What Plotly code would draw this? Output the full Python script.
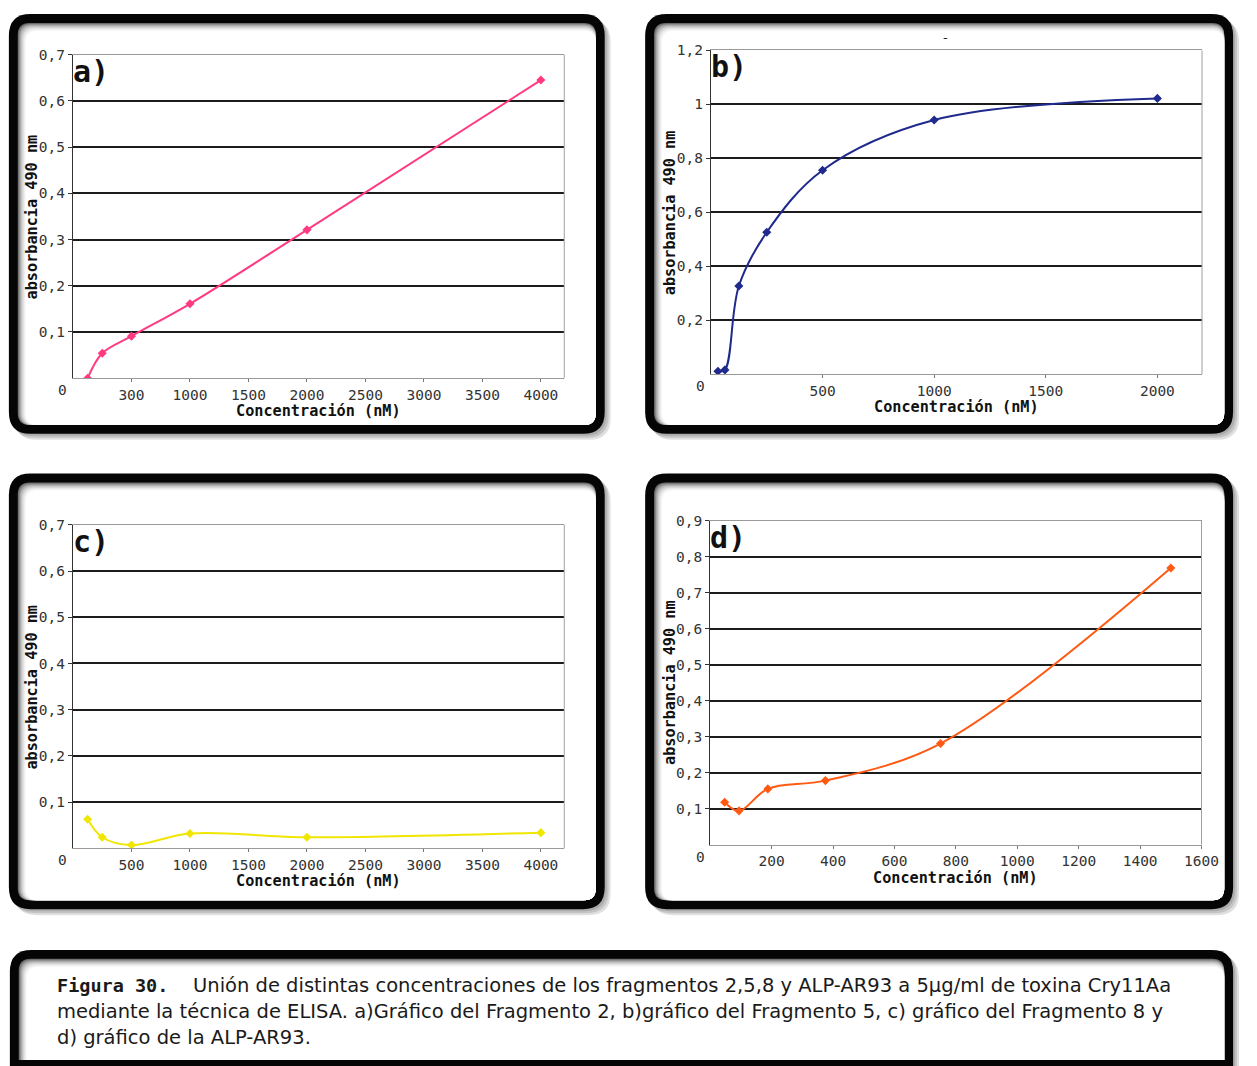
import plotly.graph_objects as go

W, H = 1257, 1066

# ---------------- data ----------------
a_x = [125, 250, 500, 1000, 2000, 4000]
a_y = [0.0, 0.054, 0.091, 0.161, 0.321, 0.645]

b_x = [31.25, 62.5, 125, 250, 500, 1000, 2000]
b_y = [0.011, 0.016, 0.327, 0.526, 0.756, 0.942, 1.022]

c_x = [125, 250, 500, 1000, 2000, 4000]
c_y = [0.063, 0.024, 0.007, 0.032, 0.024, 0.034]

d_x = [46.875, 93.75, 187.5, 375, 750, 1500]
d_y = [0.118, 0.094, 0.155, 0.178, 0.281, 0.769]

a_xtickvals = [500, 1000, 1500, 2000, 2500, 3000, 3500, 4000]
a_xticktext = ["300", "1000", "1500", "2000", "2500", "3000", "3500", "4000"]
b_xtickvals = [500, 1000, 1500, 2000]
b_xticktext = ["500", "1000", "1500", "2000"]
c_xtickvals = [500, 1000, 1500, 2000, 2500, 3000, 3500, 4000]
c_xticktext = ["500", "1000", "1500", "2000", "2500", "3000", "3500", "4000"]
d_xtickvals = [200, 400, 600, 800, 1000, 1200, 1400, 1600]
d_xticktext = ["200", "400", "600", "800", "1000", "1200", "1400", "1600"]

a_ytickvals = [0.1, 0.2, 0.3, 0.4, 0.5, 0.6, 0.7]
a_yticktext = ["0,1", "0,2", "0,3", "0,4", "0,5", "0,6", "0,7"]
b_ytickvals = [0.2, 0.4, 0.6, 0.8, 1.0, 1.2]
b_yticktext = ["0,2", "0,4", "0,6", "0,8", "1", "1,2"]
d_ytickvals = [0.1, 0.2, 0.3, 0.4, 0.5, 0.6, 0.7, 0.8, 0.9]
d_yticktext = ["0,1", "0,2", "0,3", "0,4", "0,5", "0,6", "0,7", "0,8", "0,9"]

x_title = "Concentración (nM)"
y_title = "absorbancia 490 nm"
panel_labels = ["a)", "b)", "c)", "d)"]
colors = ["#ff3a82", "#1f2a8c", "#f0e600", "#ff5a14"]

caption_bold = "Figura 30."
caption_l1 = "Unión de distintas concentraciones de los fragmentos 2,5,8 y ALP-AR93 a 5µg/ml de toxina Cry11Aa"
caption_l2 = "mediante la técnica de ELISA. a)Gráfico del Fragmento 2, b)gráfico del Fragmento 5, c) gráfico del Fragmento 8 y"
caption_l3 = "d) gráfico de la ALP-AR93."

# ---------------- helpers (layout in pixels -> paper) ----------------
def PX(px):
    return px / W

def PY(py):
    return 1 - py / H

def rr(x0, y0, x1, y1, r, rb=None):
    rb = r if rb is None else rb
    p = f"M {PX(x0+r)},{PY(y0)} L {PX(x1-r)},{PY(y0)} Q {PX(x1)},{PY(y0)} {PX(x1)},{PY(y0+r)} "
    if rb > 0:
        p += (f"L {PX(x1)},{PY(y1-rb)} Q {PX(x1)},{PY(y1)} {PX(x1-rb)},{PY(y1)} "
              f"L {PX(x0+rb)},{PY(y1)} Q {PX(x0)},{PY(y1)} {PX(x0)},{PY(y1-rb)} ")
    else:
        p += f"L {PX(x1)},{PY(y1)} L {PX(x0)},{PY(y1)} "
    p += f"L {PX(x0)},{PY(y0+r)} Q {PX(x0)},{PY(y0)} {PX(x0+r)},{PY(y0)} Z"
    return p

shapes = []

def frame(x0, y0, x1, y1, open_bottom=False):
    rb = 0 if open_bottom else None
    for k in [6, 4, 2]:
        shapes.append(dict(type="path",
                           path=rr(x0 + k, y0 + k, x1 + k, min(y1 + k, H), 22, rb),
                           xref="paper", yref="paper", fillcolor="rgba(0,0,0,0.12)",
                           line=dict(width=0), layer="below"))
    shapes.append(dict(type="path", path=rr(x0, y0, x1, y1, 22, rb), xref="paper", yref="paper",
                       fillcolor="#050505", line=dict(width=0), layer="below"))
    grays = ["#6a6a6a", "#8a8a8a", "#a6a6a6", "#bdbdbd", "#d0d0d0", "#e0e0e0", "#ececec", "#f6f6f6", "#ffffff"]
    b = 9
    for i, g in enumerate(grays):
        shapes.append(dict(type="path",
                           path=rr(x0 + b + i, y0 + b + i, x1 - b, (y1 - b) if not open_bottom else y1 - 6, 12, rb),
                           xref="paper", yref="paper", fillcolor=g, line=dict(width=0), layer="below"))

frame(9, 6, 613, 429)
frame(654, 6, 1250, 429)
frame(9, 469, 613, 908)
frame(654, 469, 1250, 908)
frame(10, 949, 1250, H, open_bottom=True)

areas = [
    (74, 47, 572, 373),
    (720.7, 42.7, 1218.5, 369),
    (74, 520.7, 572, 846.7),
    (720, 516.7, 1218, 843),
]

fig = go.Figure()

datasets = [(a_x, a_y), (b_x, b_y), (c_x, c_y), (d_x, d_y)]
for i, (xs, ys) in enumerate(datasets):
    s = "" if i == 0 else str(i + 1)
    fig.add_trace(go.Scatter(
        x=xs, y=ys, mode="lines+markers",
        line=dict(color=colors[i], width=2, shape="spline", smoothing=1.0),
        marker=dict(symbol="diamond", size=7, color=colors[i]),
        xaxis="x" + s, yaxis="y" + s, showlegend=False, hoverinfo="x+y"))

xr = [[0, 4200], [0, 2200], [0, 4200], [0, 1600]]
yr = [[0, 0.7], [0, 1.2], [0, 0.7], [0, 0.9]]
xtv = [a_xtickvals, b_xtickvals, c_xtickvals, d_xtickvals]
xtt = [a_xticktext, b_xticktext, c_xticktext, d_xticktext]
ytv = [a_ytickvals, b_ytickvals, a_ytickvals, d_ytickvals]
ytt = [a_yticktext, b_yticktext, a_yticktext, d_yticktext]

tickfont = dict(family="DejaVu Sans Mono", size=14.5, color="#333333")
titlefont = dict(family="DejaVu Sans Mono", size=15.2, color="#111111")

layout = dict(width=W, height=H, margin=dict(l=0, r=0, t=0, b=0), autosize=False,
              paper_bgcolor="white", plot_bgcolor="rgba(0,0,0,0)", showlegend=False)

annotations = []
for i, (x0, y0, x1, y1) in enumerate(areas):
    s = "" if i == 0 else str(i + 1)
    layout["xaxis" + s] = dict(
        domain=[PX(x0), PX(x1)], anchor="y" + s, range=xr[i],
        tickvals=xtv[i], ticktext=xtt[i], tickfont=tickfont,
        showgrid=False, zeroline=False, showline=True, linecolor="#9a9a9a", linewidth=1,
        mirror=True, ticks="outside", ticklen=3, tickcolor="#777777", fixedrange=True)
    layout["yaxis" + s] = dict(
        domain=[PY(y1), PY(y0)], anchor="x" + s, range=yr[i],
        tickvals=ytv[i], ticktext=ytt[i], tickfont=tickfont,
        showgrid=True, gridcolor="#1c1c1c", gridwidth=1.6, zeroline=False,
        showline=True, linecolor="#333333", linewidth=1.2,
        ticks="outside", ticklen=4, tickcolor="#333333", fixedrange=True)
    shapes.append(dict(type="line", xref=f"x{s} domain", yref=f"y{s} domain",
                       x0=1, x1=1, y0=0, y1=1, line=dict(color="#a0a0a0", width=1)))
    annotations.append(dict(text="<b>" + x_title + "</b>", xref=f"x{s} domain", yref=f"y{s} domain",
                            x=0.5, y=0, yshift=-33, showarrow=False, font=titlefont,
                            xanchor="center", yanchor="middle"))
    annotations.append(dict(text="<b>" + y_title + "</b>", xref=f"x{s} domain", yref=f"y{s} domain",
                            x=0, y=0.5, xshift=-41, showarrow=False, font=titlefont, textangle=-90,
                            xanchor="center", yanchor="middle"))
    annotations.append(dict(text="0", xref=f"x{s} domain", yref=f"y{s} domain",
                            x=0, y=0, xshift=-10, yshift=-12, showarrow=False, font=tickfont,
                            xanchor="center", yanchor="middle"))
    annotations.append(dict(text="<b>" + panel_labels[i] + "</b>", xref=f"x{s} domain", yref=f"y{s} domain",
                            x=0, y=1, xshift=-2, yshift=3, showarrow=False,
                            font=dict(family="DejaVu Sans Mono", size=30, color="#111111"),
                            xanchor="left", yanchor="top"))

annotations.append(dict(text="-", xref="paper", yref="paper", x=PX(958), y=PY(30),
                        showarrow=False, font=dict(family="DejaVu Sans", size=13, color="#222"),
                        xanchor="center", yanchor="middle"))

capfont = dict(family="DejaVu Sans", size=19.5, color="#1a1a1a")
annotations.append(dict(text="<b>" + caption_bold + "</b>", xref="paper", yref="paper",
                        x=PX(56), y=PY(985), showarrow=False,
                        font=dict(family="DejaVu Sans Mono", size=18.5, color="#1a1a1a"),
                        xanchor="left", yanchor="middle"))
annotations.append(dict(text=caption_l1, xref="paper", yref="paper", x=PX(194), y=PY(985),
                        showarrow=False, font=capfont, xanchor="left", yanchor="middle"))
annotations.append(dict(text=caption_l2, xref="paper", yref="paper", x=PX(56), y=PY(1011),
                        showarrow=False, font=capfont, xanchor="left", yanchor="middle"))
annotations.append(dict(text=caption_l3, xref="paper", yref="paper", x=PX(56), y=PY(1037),
                        showarrow=False, font=capfont, xanchor="left", yanchor="middle"))

layout["shapes"] = shapes
layout["annotations"] = annotations
fig.update_layout(**layout)

fig.write_html("out.html",
               config={"displayModeBar": False, "responsive": False},
               post_script="var d=document.getElementById('{plot_id}');"
                           "d.style.position='fixed';d.style.left='0px';d.style.top='0px';"
                           "document.documentElement.style.margin='0';"
                           "document.body.style.margin='0';document.body.style.padding='0';"
                           "document.documentElement.style.overflow='hidden';"
                           "document.body.style.overflow='hidden';")
